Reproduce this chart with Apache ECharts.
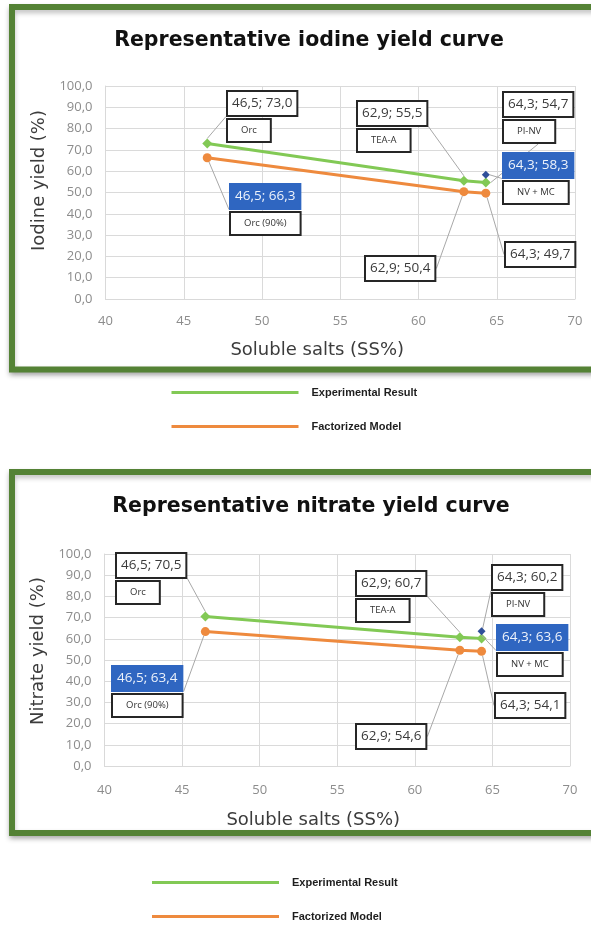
<!DOCTYPE html>
<html><head><meta charset="utf-8">
<script src="https://cdn.jsdelivr.net/npm/echarts@6/dist/echarts.min.js"></script>
<style>html,body{margin:0;padding:0;background:#fff}#c{width:591px;height:926px}</style>
</head><body><div id="c"></div>
<script>
// ---------- data ----------
const solubleSalts = [46.5, 62.9, 64.3];
const iodineExperimental = [73.0, 55.5, 54.7];
const iodineModel = [66.3, 50.4, 49.7];
const iodineExtraPoint = [[64.3, 58.3]];
const nitrateExperimental = [70.5, 60.7, 60.2];
const nitrateModel = [63.4, 54.6, 54.1];
const nitrateExtraPoint = [[64.3, 63.6]];
const experimentalNames = ['Orc', 'TEA-A', 'PI-NV'];
const modelNames = ['Orc (90%)', '', ''];
const extraNames = ['NV + MC'];
const seriesNames = ['Experimental Result', 'Factorized Model'];
const chartTitles = ['Representative iodine yield curve', 'Representative nitrate yield curve'];
const yAxisNames = ['Iodine yield (%)', 'Nitrate yield (%)'];
const xAxisName = 'Soluble salts (SS%)';

// ---------- label placement (offset from point, side of leader, bend length, highlighted) ----------
const placeIodineExp = [[21, -51.5, 'l', 8, 0], [-106, -79, 'r', 10, 0], [18, -89.5, 'l', 5, 0]];
const placeIodineMod = [[24, 27, 'l', 6, 1], [-97.5, 65, 'r', 6, 0], [20, 50, 'l', 6, 0]];
const placeIodineExtra = [[18, -21, 'l', 5, 1]];
const placeNitrateExp = [[-88.4, -62.5, 'r', 4, 0], [-103, -65.3, 'r', 5, 0], [11.4, -72.4, 'l', 6, 0]];
const placeNitrateMod = [[-92.4, 35.4, 'r', 5, 1], [-103, 74.8, 'r', 9, 0], [14.4, 42.7, 'l', 7, 0]];
const placeNitrateExtra = [[16.4, -5.2, 'l', 8, 1]];

const fmt = v => v.toFixed(1).replace('.', ',');
const VBOX_H = 23;

const rich = {
  v: {fontFamily: 'Open Sans', fontSize: 13.5, height: 15, lineHeight: 23, color: '#3a3a3a', backgroundColor: '#fff',
      borderColor: '#262626', borderWidth: 2, padding: [4, 4, 4, 4]},
  b: {fontFamily: 'Open Sans', fontSize: 13.5, height: 15, lineHeight: 23, color: '#eef3fb', backgroundColor: '#2f66c1',
      borderColor: '#2f66c1', borderWidth: 2, padding: [4, 4, 4, 4]},
  g: {fontSize: 1, height: 5, lineHeight: 5},
  n: {fontFamily: 'Open Sans', fontSize: 9.5, height: 11, lineHeight: 21, color: '#333', backgroundColor: '#fff',
      borderColor: '#262626', borderWidth: 2, padding: [5, 13, 5, 13]}
};

function makeLabel(names, place) {
  return {
    show: true,
    formatter: p => {
      const pl = place[p.dataIndex];
      const key = pl[4] ? 'b' : 'v';
      let s = '{' + key + '|' + fmt(p.value[0]) + '; ' + fmt(p.value[1]) + '}';
      const nm = names[p.dataIndex];
      if (nm) s += '\n{g| }\n{n|' + nm + '}';
      return s;
    },
    rich: rich
  };
}
function makeLayout(place) {
  return params => {
    const pl = place[params.dataIndex];
    const cx = params.rect.x + params.rect.width / 2;
    const cy = params.rect.y + params.rect.height / 2;
    const x = Math.round(cx + pl[0]), y = Math.round(cy + pl[1]);
    const my = y + VBOX_H / 2;
    const w = params.labelRect.width;
    let edge, bend;
    if (pl[2] === 'l') { edge = x; bend = x - pl[3]; }
    else { edge = x + w; bend = x + w + pl[3]; }
    return {x: x, y: y, align: 'left', verticalAlign: 'top',
            labelLinePoints: [[cx, cy], [bend, my], [edge, my]]};
  };
}
const leader = {show: true, lineStyle: {color: '#a8a8a8', width: 1}};
const GREEN = '#82c955', ORANGE = '#ee8a3e', BLUE = '#2f4f9a';

function chartSeries(gi, exp, mod, extra, pExp, pMod, pExtra) {
  return [
    {type: 'line', name: seriesNames[0], xAxisIndex: gi, yAxisIndex: gi, color: GREEN,
     data: solubleSalts.map((x, i) => [x, exp[i]]), symbol: 'diamond', symbolSize: 10,
     lineStyle: {width: 3, color: GREEN}, itemStyle: {color: GREEN},
     label: makeLabel(experimentalNames, pExp), labelLine: leader, labelLayout: makeLayout(pExp), z: 3},
    {type: 'line', name: seriesNames[1], xAxisIndex: gi, yAxisIndex: gi, color: ORANGE,
     data: solubleSalts.map((x, i) => [x, mod[i]]), symbol: 'circle', symbolSize: 9,
     lineStyle: {width: 3, color: ORANGE}, itemStyle: {color: ORANGE},
     label: makeLabel(modelNames, pMod), labelLine: leader, labelLayout: makeLayout(pMod), z: 2},
    {type: 'scatter', name: 'NV + MC', xAxisIndex: gi, yAxisIndex: gi, color: BLUE,
     data: extra, symbol: 'diamond', symbolSize: 8, itemStyle: {color: BLUE, opacity: 1},
     label: makeLabel(extraNames, pExtra), labelLine: leader, labelLayout: makeLayout(pExtra), z: 4}
  ];
}

const grids = [
  {left: 105.5, top: 86, width: 469.5, height: 213},
  {left: 104.5, top: 554, width: 465.5, height: 212}
];
// name shifts: [x-name right padding, y-name left padding, x nameGap, x label margin]
const nameShift = [[46, 24, 42, 16], [48, 18, 45, 18]];

const axisX = gi => ({
  gridIndex: gi, type: 'value', min: 40, max: 70, interval: 5,
  name: xAxisName, nameLocation: 'middle', nameGap: nameShift[gi][2],
  nameTextStyle: {fontFamily: 'DejaVu Sans', fontSize: 18, color: '#3c3c3c', padding: [0, nameShift[gi][0], 0, 0]},
  axisLine: {show: true, lineStyle: {color: '#d9d9d9'}}, axisTick: {show: false},
  axisLabel: {color: '#8c8c8c', fontSize: 13, margin: nameShift[gi][3], fontFamily: 'Open Sans'},
  splitLine: {show: true, lineStyle: {color: '#dadada'}}
});
const axisY = gi => ({
  gridIndex: gi, type: 'value', min: 0, max: 100, interval: 10,
  name: yAxisNames[gi], nameLocation: 'middle', nameGap: 52,
  nameTextStyle: {fontFamily: 'DejaVu Sans', fontSize: 18, color: '#3c3c3c', padding: [0, 0, 0, nameShift[gi][1]]},
  axisLine: {show: true, lineStyle: {color: '#d9d9d9'}}, axisTick: {show: false},
  axisLabel: {color: '#8c8c8c', fontSize: 13, margin: 13, fontFamily: 'Open Sans', formatter: fmt},
  splitLine: {show: true, lineStyle: {color: '#dadada'}}
});

const legendBase = {
  data: seriesNames, orient: 'vertical', icon: 'rect', itemWidth: 127, itemHeight: 3, itemGap: 23,
  selectedMode: false, padding: 0,
  textStyle: {fontFamily: 'Liberation Sans', fontWeight: 'bold', fontSize: 11, color: '#1e1e1e', padding: [0, 0, 0, 8]}
};

const chart = echarts.init(document.getElementById('c'), null, {renderer: 'canvas'});
chart.setOption({
  animation: false,
  backgroundColor: '#fff',
  title: [
    {text: chartTitles[0], left: 309, top: 30, textAlign: 'center', padding: 0,
     textStyle: {fontFamily: 'DejaVu Sans', fontWeight: 'bold', fontSize: 20.5, color: '#111'}},
    {text: chartTitles[1], left: 311, top: 496, textAlign: 'center', padding: 0,
     textStyle: {fontFamily: 'DejaVu Sans', fontWeight: 'bold', fontSize: 20.5, color: '#111'}}
  ],
  legend: [
    Object.assign({}, legendBase, {left: 171.5, top: 387}),
    Object.assign({}, legendBase, {left: 152, top: 877})
  ],
  grid: grids,
  xAxis: [axisX(0), axisX(1)],
  yAxis: [axisY(0), axisY(1)],
  graphic: [
    {type: 'rect', z: -10, shape: {x: 12, y: 7, width: 620, height: 362.5},
     style: {fill: '#fff', stroke: '#548235', lineWidth: 6, shadowBlur: 5, shadowOffsetY: 3, shadowColor: 'rgba(0,0,0,0.25)'}},
    {type: 'rect', z: -10, shape: {x: 12, y: 472, width: 620, height: 361},
     style: {fill: '#fff', stroke: '#548235', lineWidth: 6, shadowBlur: 5, shadowOffsetY: 3, shadowColor: 'rgba(0,0,0,0.25)'}}
  ],
  series: [].concat(
    chartSeries(0, iodineExperimental, iodineModel, iodineExtraPoint, placeIodineExp, placeIodineMod, placeIodineExtra),
    chartSeries(1, nitrateExperimental, nitrateModel, nitrateExtraPoint, placeNitrateExp, placeNitrateMod, placeNitrateExtra)
  )
});
</script></body></html>
